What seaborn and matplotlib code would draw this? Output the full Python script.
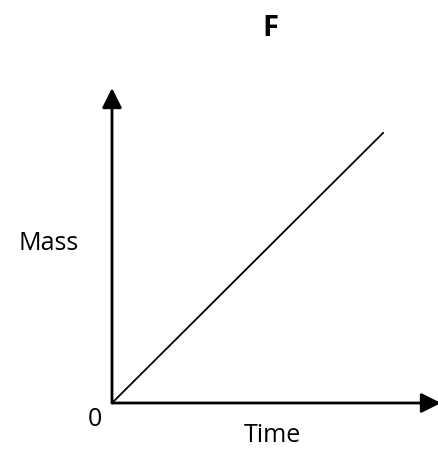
import matplotlib
matplotlib.use("Agg")
import matplotlib.pyplot as plt
import pandas as pd
import seaborn as sns

# straight-line relation, mass grows with time from the origin
time = [0.0, 1.0]
mass = [0.0, 1.0]

title = "F"
x_label = "Time"
y_label = "Mass"
origin_label = "0"

df = pd.DataFrame({"time": time, "mass": mass})

sns.set_theme(style="white")
plt.rcParams["font.family"] = ["Open Sans", "DejaVu Sans"]
plt.rcParams["text.color"] = "black"

W, H = 438, 450
fig = plt.figure(figsize=(W / 100, H / 100), dpi=100)
# origin at pixel (112, 403), line end at (384, 132)
ax = fig.add_axes([112 / W, (H - 403) / H, (384 - 112) / W, (403 - 132) / H])

sns.lineplot(data=df, x="time", y="mass", ax=ax, color="black", linewidth=1.3)

ax.set_xlim(0, 1)
ax.set_ylim(0, 1)
for s in ax.spines.values():
    s.set_visible(False)
ax.set_xticks([])
ax.set_yticks([])
ax.set_xlabel("")
ax.set_ylabel("")

arrow = dict(arrowstyle="-|>,head_length=1.0,head_width=0.5", color="black",
             lw=2, shrinkA=0, shrinkB=0)
ax.annotate("", xy=(0, (403 - 88) / 271), xytext=(0, 0), xycoords="data",
            arrowprops=arrow, annotation_clip=False)
ax.annotate("", xy=((441 - 112) / 272, 0), xytext=(0, 0), xycoords="data",
            arrowprops=arrow, annotation_clip=False)

fig.text(270 / W, 1 - 28 / H, title, ha="center", va="center",
         fontsize=21, fontweight="bold")
fig.text(49 / W, 1 - 243 / H, y_label, ha="center", va="center", fontsize=18)
fig.text(272 / W, 1 - 436 / H, x_label, ha="center", va="center", fontsize=18)
fig.text(95 / W, 1 - 419 / H, origin_label, ha="center", va="center", fontsize=18)

fig.savefig("out.png", dpi=100)
